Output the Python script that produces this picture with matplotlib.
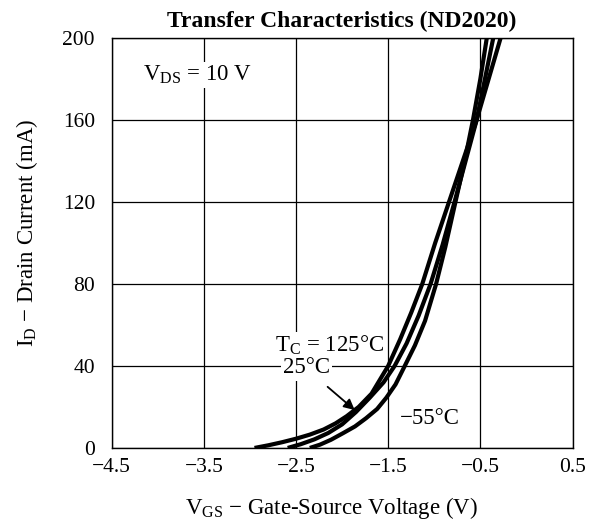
import matplotlib
matplotlib.use("Agg")
import matplotlib.pyplot as plt

# ============================================================
# 1. 数据
# ============================================================
vgs_125 = [-2.95, -2.80, -2.65, -2.50, -2.35, -2.20, -2.07, -1.95, -1.82,
           -1.68, -1.50, -1.37, -1.25, -1.13, -0.99, -0.84, -0.69, -0.54,
           -0.41, -0.28]
id_125 = [0, 1.3, 2.8, 4.5, 6.5, 9, 12, 15.5, 20, 26.5, 40, 53, 66, 80,
          100, 120, 140, 160, 180, 200]

vgs_25 = [-2.59, -2.45, -2.30, -2.15, -2.00, -1.85, -1.70, -1.55, -1.43,
          -1.30, -1.17, -1.04, -0.91, -0.78, -0.66, -0.54, -0.45, -0.36]
id_25 = [0, 1.8, 4.2, 7.3, 11.5, 17.5, 24.5, 32, 40, 51, 64.5, 80, 99,
         120, 140, 160, 180, 200]

vgs_m55 = [-2.35, -2.24, -2.12, -1.99, -1.86, -1.74, -1.62, -1.52, -1.42,
           -1.32, -1.21, -1.10, -0.98, -0.88, -0.77, -0.67, -0.58, -0.50,
           -0.43]
id_m55 = [0, 1.6, 4, 7.2, 10.5, 14.5, 19, 24.5, 31, 40, 50, 62, 80, 98,
          120, 140, 160, 180, 200]

x_ticks = [-4.5, -3.5, -2.5, -1.5, -0.5, 0.5]
x_tick_labels = ["\u22124.5", "\u22123.5", "\u22122.5", "\u22121.5", "\u22120.5", "0.5"]
y_ticks = [0, 40, 80, 120, 160, 200]

# ============================================================
# 2. 样式
# ============================================================
plt.rcParams["font.family"] = ["Liberation Serif", "DejaVu Serif"]
plt.rcParams["mathtext.fontset"] = "custom"
plt.rcParams["mathtext.rm"] = "Liberation Serif"
plt.rcParams["font.size"] = 16

fig = plt.figure(figsize=(5.97, 5.27), dpi=100)
ax = fig.add_axes([0.187, 0.150, 0.772, 0.778])

for v, i in [(vgs_125, id_125), (vgs_25, id_25), (vgs_m55, id_m55)]:
    ax.plot(v, i, color="black", linewidth=3.0, solid_capstyle="butt",
            solid_joinstyle="round", zorder=3)

ax.set_xlim(-4.5, 0.5)
ax.set_ylim(0, 200)
ax.set_xticks(x_ticks)
ax.set_xticklabels(x_tick_labels)
ax.set_yticks(y_ticks)
ax.tick_params(axis="both", length=0, labelsize=15.5)
ax.tick_params(axis="x", pad=7)
ax.tick_params(axis="y", pad=12)
ax.grid(True, color="black", linewidth=0.9)
ax.set_axisbelow(True)
for s in ax.spines.values():
    s.set_linewidth(1.0)

ax.set_title("Transfer Characteristics (ND2020)", fontweight="bold",
             fontsize=17, pad=8)
ax.set_xlabel("$\\mathregular{V_{GS}}$ \u2212 Gate-Source Voltage (V)",
              fontsize=16.5, labelpad=13)
ax.set_ylabel("$\\mathregular{I_{D}}$ \u2212 Drain Current (mA)",
              fontsize=16.5, labelpad=16)
ax.xaxis.label.set_x(0.478)
ax.yaxis.label.set_y(0.525)

# ------------------------------------------------------------
# 标注
# ------------------------------------------------------------
box = dict(facecolor="white", edgecolor="none", pad=1.5)
ax.text(-4.16, 182, "$\\mathregular{V_{DS}}$ = 10 V", ha="left", va="center",
        fontsize=16.5, bbox=box, zorder=4)
ax.text(-2.73, 50, "$\\mathregular{T_{C}}$ = 125°C", ha="left", va="center",
        fontsize=16.5, bbox=box, zorder=2)
ax.text(-2.39, 39, "25°C", ha="center", va="center", fontsize=16.5,
        bbox=box, zorder=2)
ax.text(-1.37, 14.5, "\u221255°C", ha="left", va="center", fontsize=16.5,
        bbox=box, zorder=2)
ax.annotate("", xy=(-1.84, 17.6), xytext=(-2.18, 30.7),
            arrowprops=dict(arrowstyle="-|>", color="black", lw=1.3,
                            mutation_scale=16), zorder=4)

fig.savefig("out.png", dpi=100)
